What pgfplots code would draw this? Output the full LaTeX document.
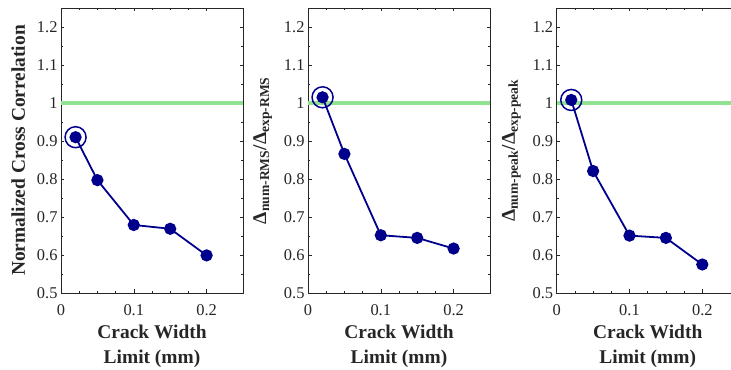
\documentclass[border=0pt]{standalone}
\usepackage{pgfplots}
\pgfplotsset{compat=1.18}
\usepackage{fontspec}
\setmainfont{Liberation Serif}

\definecolor{navy}{RGB}{0,0,140}
\definecolor{refgreen}{RGB}{145,226,145}
\definecolor{axgray}{RGB}{38,38,38}

\pgfplotsset{
  crackpanel/.style={
    scale only axis,
    width=182bp, height=285bp,
    anchor=south west,
    xmin=0, xmax=0.25, ymin=0.5, ymax=1.25,
    xtick={0,0.1,0.2}, minor x tick num=3,
    ytick={0.5,0.6,...,1.21}, minor y tick num=1,
    tick align=inside,
    major tick length=3.5bp, minor tick length=2bp,
    axis line style={axgray, line width=0.7pt},
    every tick/.style={axgray, line width=0.6pt},
    every minor tick/.style={axgray, line width=0.6pt},
    /pgf/number format/assume math mode=true,
    tick label style={font=\fontsize{16.5}{19}\selectfont, text=axgray},
    xticklabel style={yshift=-8bp},
    label style={font=\fontsize{19.5}{25}\selectfont\bfseries, text=axgray},
    xlabel={Crack Width\\Limit (mm)},
    xlabel style={align=center, at={(axis description cs:0.5,0)},
      anchor=center, yshift=-53bp},
    ylabel style={yshift=5bp},
    clip=false,
  },
  refline/.style={refgreen, line width=3.2pt, forget plot},
  dataline/.style={navy, line width=1.8pt, mark=*, mark size=5.2bp,
    mark options={fill=navy, draw=navy}},
  firstring/.style={only marks, mark=o, mark size=10.5bp,
    mark options={draw=navy, line width=1.5pt}},
}

\begin{document}
\begin{tikzpicture}
% Normalized cross correlation
\begin{axis}[crackpanel, at={(61bp,77bp)},
  ylabel={Normalized Cross Correlation}]
  \addplot[refline] coordinates {(0,1) (0.25,1)};
  \addplot[dataline] coordinates {
    (0.02,0.910) (0.05,0.797) (0.10,0.679) (0.15,0.669) (0.20,0.599)};
  \addplot[firstring] coordinates {(0.02,0.910)};
\end{axis}
% RMS ratio
\begin{axis}[crackpanel, at={(308bp,77bp)},
  ylabel={Δ\textsubscript{num-RMS}/Δ\textsubscript{exp-RMS}}]
  \addplot[refline] coordinates {(0,1) (0.25,1)};
  \addplot[dataline] coordinates {
    (0.02,1.015) (0.05,0.866) (0.10,0.652) (0.15,0.645) (0.20,0.617)};
  \addplot[firstring] coordinates {(0.02,1.015)};
\end{axis}
% Peak ratio
\begin{axis}[crackpanel, at={(556.7bp,77bp)},
  ylabel={Δ\textsubscript{num-peak}/Δ\textsubscript{exp-peak}}]
  \addplot[refline] coordinates {(0,1) (0.25,1)};
  \addplot[dataline] coordinates {
    (0.02,1.008) (0.05,0.821) (0.10,0.651) (0.15,0.645) (0.20,0.575)};
  \addplot[firstring] coordinates {(0.02,1.008)};
\end{axis}
\pgfresetboundingbox
\useasboundingbox (0,0) rectangle (731bp,370bp);
\end{tikzpicture}
\end{document}
